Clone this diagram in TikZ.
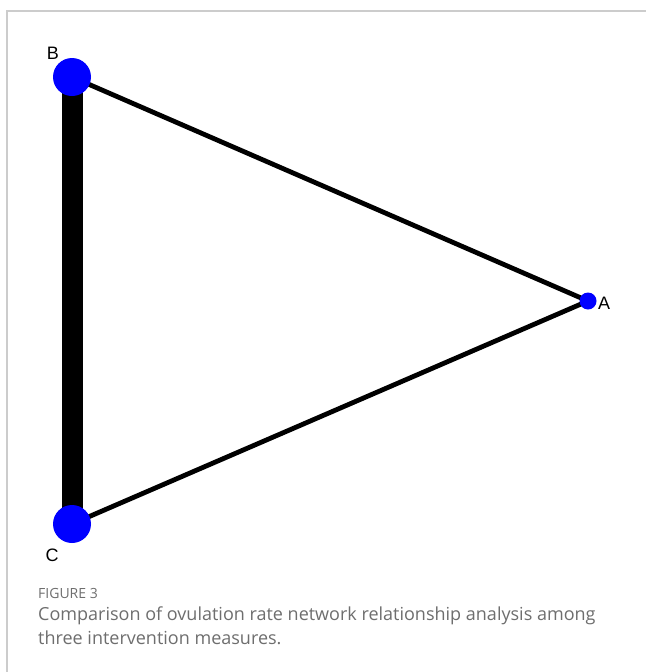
\documentclass[tikz,border=0pt]{standalone}
\usepackage{fontspec}
\setmainfont{Open Sans}
\newfontfamily\labfont{Liberation Sans}
\definecolor{nodeblue}{RGB}{0,0,255}
\definecolor{capgray}{RGB}{110,110,110}
\definecolor{framegray}{RGB}{204,204,204}
\begin{document}
\begin{tikzpicture}[x=1pt,y=-1pt,
  vert/.style={circle,fill=nodeblue,inner sep=0pt},
  lab/.style={font=\labfont\fontsize{18}{18}\selectfont,inner sep=0pt},
  edge/.style={line width=4.8pt,black},
  thickedge/.style={line width=21pt,black},
  captext/.style={anchor=base west,inner sep=0pt,text=capgray,font=\fontsize{18}{24}\selectfont}]
\useasboundingbox (0,0) rectangle (646,672);
\fill[white] (0,0) rectangle (646,672);
\draw[framegray,line width=1.2pt] (7,672) -- (7,11) -- (646,11);
\coordinate (pB) at (72,77);
\coordinate (pC) at (72,524);
\coordinate (pA) at (588,301);
\draw[thickedge] (pB) -- (pC);
\draw[edge] (pB) -- (pA);
\draw[edge] (pC) -- (pA);
\node[vert,minimum size=38pt] (B) at (pB) {};
\node[vert,minimum size=38pt] (C) at (pC) {};
\node[vert,minimum size=17pt] (A) at (pA) {};
\node[lab] (lB) at (53,53) {B};
\node[lab] (lC) at (52,555) {C};
\node[lab,anchor=west] (lA) at (598,303) {A};
\node[captext,font=\fontsize{14}{18}\selectfont] (fig) at (38,598) {FIGURE 3};
\node[captext] (cap1) at (38,620) {Comparison of ovulation rate network relationship analysis among};
\node[captext] (cap2) at (38,644) {three intervention measures.};
\end{tikzpicture}
\end{document}
